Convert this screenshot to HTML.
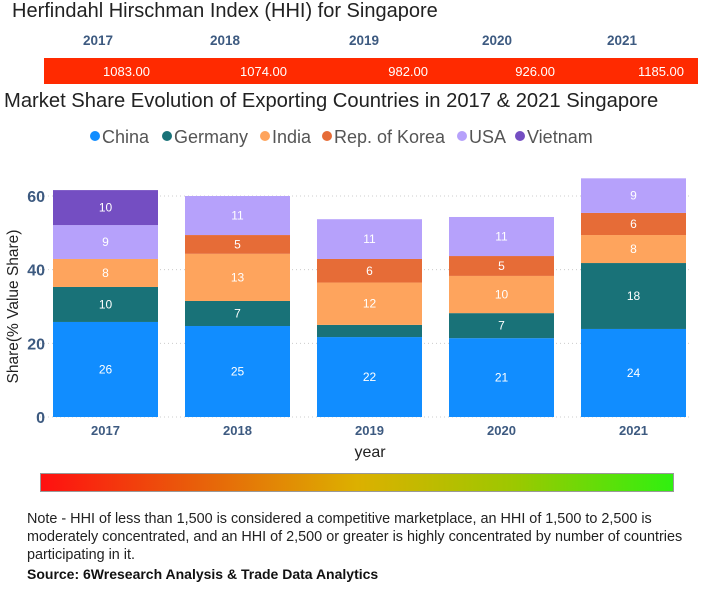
<!DOCTYPE html>
<html><head><meta charset="utf-8"><style>
body{margin:0;width:703px;height:600px;background:#fff;font-family:"Liberation Sans",sans-serif;position:relative;overflow:hidden}
.abs{position:absolute;white-space:nowrap}
.nl{display:block;white-space:nowrap}
</style></head><body>
<div class="abs" style="left:12px;top:0px;font-size:20px;color:#222;">Herfindahl Hirschman Index (HHI) for Singapore</div>
<svg id="hhi" class="abs" style="left:0;top:0" width="703" height="90"></svg>
<div class="abs" style="left:4px;top:90px;font-size:20.2px;color:#222;">Market Share Evolution of Exporting Countries in 2017 &amp; 2021 Singapore</div>
<svg id="chart" class="abs" style="left:0;top:115px" width="703" height="350"></svg>
<div class="abs" style="left:40px;top:473px;width:634px;height:19px;border:1px solid #999;box-sizing:border-box;background:linear-gradient(to right,#ff1010,#e8600a 25%,#dcb000 50%,#9cc800 75%,#30f010)"></div>
<div class="abs" style="left:27px;top:510px;font-size:14.4px;line-height:18px;color:#222;">
<span class="nl">Note - HHI of less than 1,500 is considered a competitive marketplace, an HHI of 1,500 to 2,500 is</span>
<span class="nl">moderately concentrated, and an HHI of 2,500 or greater is highly concentrated by number of countries</span>
<span class="nl">participating in it.</span></div>
<div class="abs" style="left:27px;top:566px;font-size:14px;font-weight:bold;color:#111;">Source: 6Wresearch Analysis &amp; Trade Data Analytics</div>
<script>
const hhiYears=["2017","2018","2019","2020","2021"];
const hhiValues=[1083,1074,982,926,1185];
const years=["2017","2018","2019","2020","2021"];
const seriesNames=["China","Germany","India","Rep. of Korea","USA","Vietnam"];
const seriesColors=["#118dff","#197278","#fea45d","#e66c37","#b6a1fb","#744ec2"];
const china=[25.8,24.7,21.7,21.4,23.9];
const germany=[9.5,6.8,3.3,6.8,17.9];
const india=[7.6,12.8,11.5,10.1,7.6];
const korea=[0,5.1,6.4,5.4,6];
const usa=[9.2,10.6,10.8,10.6,9.4];
const vietnam=[9.5,0,0,0,0];
const yTicks=[0,20,40,60];
const NS="http://www.w3.org/2000/svg";
function mk(p,t,a){const e=document.createElementNS(NS,t);for(const k in a)e.setAttribute(k,a[k]);p.appendChild(e);return e;}
const h=document.getElementById('hhi');
const hx=[98,225,364,497,622];
const hv=[150,287,428,555,684];
const band=mk(h,'rect',{x:44,y:58,width:654,height:26,fill:'#ff2a00'});


hhiYears.forEach((y,i)=>{
 const t=mk(h,'text',{x:hx[i],y:45,'text-anchor':'middle','font-size':13.5,'font-weight':'bold',fill:'#3d5a80'});t.textContent=y;
 
 
 const v=mk(h,'text',{x:hv[i],y:76,'text-anchor':'end','font-size':13,fill:'#fff'});v.textContent=hhiValues[i].toFixed(2);
 
 
});
const c=document.getElementById('chart');
const OY=115;
const y0=417-OY, pxPer=221/60;
const ys=v=>y0-v*pxPer;
const barX=i=>53+i*132, bw=105;
const lx=[91,163,261,323,458,516];
seriesNames.forEach((n,i)=>{
 const g=mk(c,'g',{});
 
 
 mk(g,'circle',{cx:lx[i]+4,cy:21,r:5,fill:seriesColors[i]});
 const t=mk(g,'text',{x:lx[i]+11,y:28,'font-size':18,fill:'#555'});t.textContent=n;
});
yTicks.forEach(v=>{
 const l=mk(c,'line',{x1:40,x2:690,y1:ys(v),y2:ys(v),stroke:'#ccc','stroke-dasharray':'1,3'});
 
 
 const t=mk(c,'text',{x:45,y:ys(v)+6,'text-anchor':'end','font-size':16,'font-weight':'bold',fill:'#3d5a80'});t.textContent=v;
 
 
});
const series=[china,germany,india,korea,usa,vietnam];
years.forEach((yr,i)=>{
 let base=0;
 series.forEach((s,k)=>{
  const v=s[i]; if(v<=0)return;
  const r=mk(c,'rect',{x:barX(i),y:ys(base+v),width:bw,height:v*pxPer,fill:seriesColors[k]});
  
  
  if(v>=4){const t=mk(c,'text',{x:barX(i)+bw/2,y:ys(base+v/2)+4,'text-anchor':'middle','font-size':12,fill:'#fff'});t.textContent=Math.round(v);
   
   }
  base+=v;
 });
 const t=mk(c,'text',{x:barX(i)+bw/2,y:ys(0)+18,'text-anchor':'middle','font-size':13,'font-weight':'bold',fill:'#3d5a80'});t.textContent=yr;
 
 
});
const xt=mk(c,'text',{x:370,y:ys(0)+40,'text-anchor':'middle','font-size':16,fill:'#222'});xt.textContent='year';


const yt=mk(c,'text',{x:0,y:0,'text-anchor':'middle','font-size':15.5,fill:'#222',transform:'translate(18,'+ys(30)+') rotate(-90)'});yt.textContent='Share(% Value Share)';


</script>
</body></html>
